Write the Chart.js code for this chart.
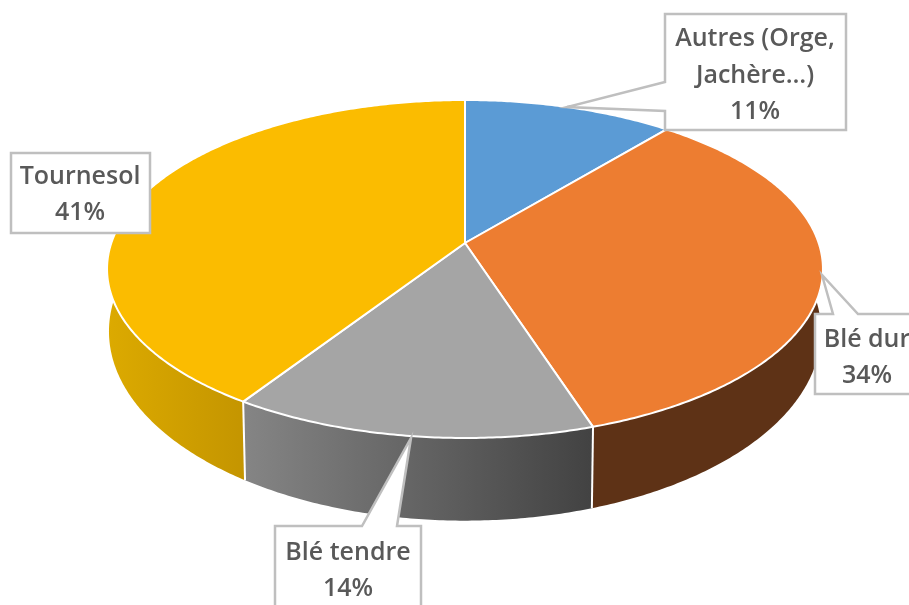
<!DOCTYPE html>
<html><head><meta charset="utf-8">
<style>html,body{margin:0;padding:0;background:#fff;overflow:hidden}canvas{display:block}</style>
<script src="https://cdn.jsdelivr.net/npm/chart.js@4"></script>
</head><body><canvas id="c" width="909" height="605"></canvas>
<script>
const categories = ['Autres (Orge, Jachère…)', 'Blé dur', 'Blé tendre', 'Tournesol'];
const labelLines = [['Autres (Orge,', 'Jachère…)'], ['Blé dur'], ['Blé tendre'], ['Tournesol']];
const values = [11, 34, 14.2, 40.8];
const topColors = ['#5b9bd5', '#ed7d31', '#a5a5a5', '#fbbc00'];
const sideStart = ['#34618c', '#5e3216', '#858585', '#dcaa00'];
const sideEnd = ['#34618c', '#5e3216', '#424242', '#c49500'];

// perspective of the top and bottom discs
const TOP = {cx:465, cy:243, R:353.7, A:165, k:0.1538};
const BOT = {cx:465, cy:303, R:352, A:185, k:0.15};
const project = (d, a) => {
  const u = Math.cos(a), v = Math.sin(a), w = 1 - d.k * v;
  return [d.cx + d.R * u / w, d.cy + d.A * v / w];
};
const arcPoints = (d, a0, a1) => {
  const n = Math.max(2, Math.ceil(Math.abs(a1 - a0) / 0.01)), pts = [];
  for (let i = 0; i <= n; i++) pts.push(project(d, a0 + (a1 - a0) * i / n));
  return pts;
};
const trace = (ctx, pts) => { pts.forEach((p, i) => i ? ctx.lineTo(p[0], p[1]) : ctx.moveTo(p[0], p[1])); };

// callout outlines, drawn over the pie
const callouts = [
  {shape:[[665,14],[846,14],[846,130],[665,130],[665,111],[567,107],[665,82]], x:755, y:[46,83,119]},
  {shape:[[815,314],[833,314],[822,275],[858,314],[925,314],[925,394],[815,394]], x:867, y:[347,383]},
  {shape:[[275,526],[362,526],[411,438],[397,526],[421,526],[421,625],[275,625]], x:348, y:[560,596]},
  {shape:[[11,153],[150,153],[150,233],[11,233]], x:80, y:[184,220]}
];

const pie3d = {
  id:'pie3d',
  beforeDatasetDraw(chart, args) {
    const ctx = chart.ctx, arcs = args.meta.data;
    // sides
    [3, 2, 1].forEach(i => {
      const {startAngle:s, endAngle:e} = arcs[i];
      const top = arcPoints(TOP, s, e), bot = arcPoints(BOT, e, s);
      const xs = top.concat(bot).filter(p => p[1] > TOP.cy).map(p => p[0]);
      const g = ctx.createLinearGradient(Math.min(...xs), 0, Math.max(...xs), 0);
      g.addColorStop(0, sideStart[i]);
      g.addColorStop(1, sideEnd[i]);
      ctx.beginPath(); trace(ctx, top); bot.forEach(p => ctx.lineTo(p[0], p[1])); ctx.closePath();
      ctx.fillStyle = g; ctx.fill();
    });
    // seams between side walls
    ctx.strokeStyle = '#fff'; ctx.lineWidth = 2;
    [arcs[1].endAngle, arcs[2].endAngle].forEach(a => {
      const p = project(TOP, a), q = project(BOT, a);
      ctx.beginPath(); ctx.moveTo(p[0], p[1]); ctx.lineTo(q[0], q[1]); ctx.stroke();
    });
    // top faces
    arcs.forEach((arc, i) => {
      ctx.beginPath(); ctx.moveTo(TOP.cx, TOP.cy);
      arcPoints(TOP, arc.startAngle, arc.endAngle).forEach(p => ctx.lineTo(p[0], p[1]));
      ctx.closePath();
      ctx.fillStyle = topColors[i]; ctx.fill();
      ctx.lineJoin = 'round'; ctx.strokeStyle = '#fff'; ctx.lineWidth = 2; ctx.stroke();
    });
    return false;
  },
  afterDatasetsDraw(chart) {
    const ctx = chart.ctx, total = values.reduce((a, b) => a + b, 0);
    callouts.forEach((c, i) => {
      ctx.beginPath(); trace(ctx, c.shape); ctx.closePath();
      ctx.fillStyle = '#fff'; ctx.fill();
      ctx.strokeStyle = '#bfbfbf'; ctx.lineWidth = 2.5; ctx.lineJoin = 'miter'; ctx.stroke();
      const lines = labelLines[i].concat(Math.round(values[i] / total * 100) + '%');
      ctx.fillStyle = '#595959'; ctx.textAlign = 'center'; ctx.textBaseline = 'alphabetic';
      ctx.font = '600 25px "Open Sans"';
      lines.forEach((t, j) => ctx.fillText(t, c.x, c.y[j]));
    });
  }
};

new Chart(document.getElementById('c'), {
  type:'pie',
  data:{labels:categories, datasets:[{data:values, backgroundColor:topColors, borderColor:'#fff', borderWidth:2}]},
  options:{responsive:false, animation:false, plugins:{legend:{display:false}, tooltip:{enabled:false}}},
  plugins:[pie3d]
});
</script></body></html>
